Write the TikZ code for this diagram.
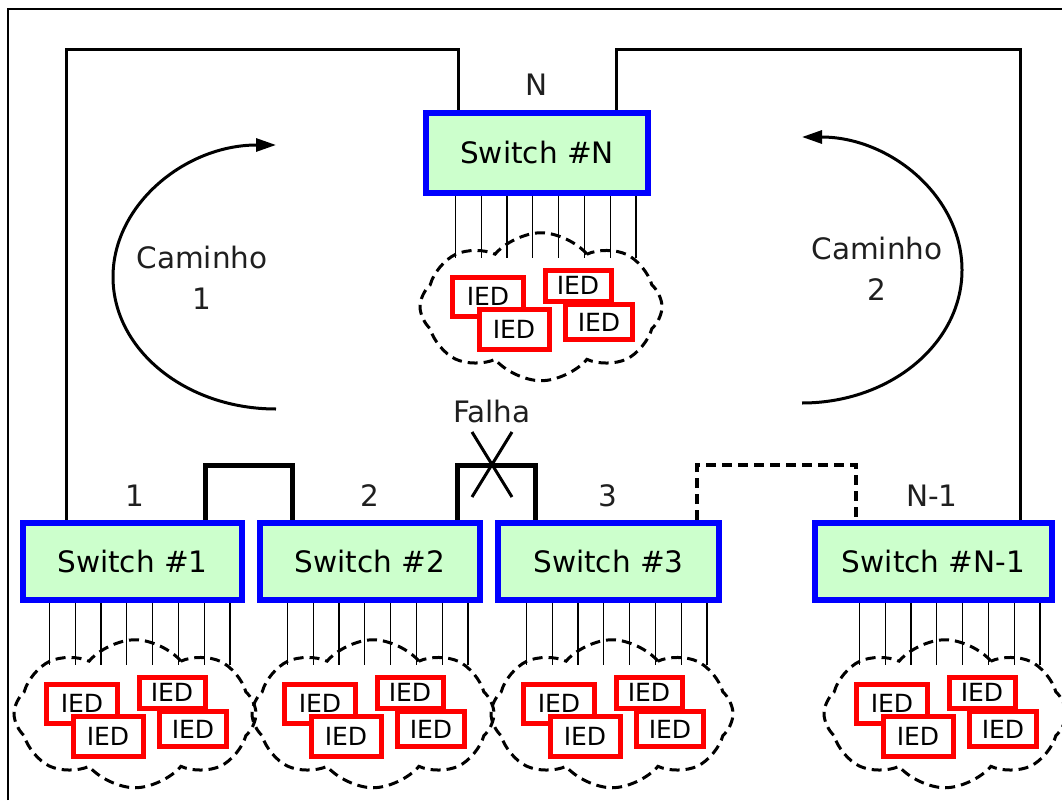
\documentclass[tikz,border=0pt]{standalone}
\usepackage{fontspec}
\setmainfont{DejaVu Sans}
\usetikzlibrary{shapes.symbols,arrows.meta,backgrounds,calc}
\definecolor{swfill}{HTML}{CCFFCC}
\definecolor{swblue}{HTML}{0000FF}
\definecolor{iedred}{HTML}{FF0000}
\newcommand{\iedcluster}[1]{%
  \node[cloudsh] (#1c) at ($(#1.south east)+(-110,110.75)$) {};
  \begin{scope}[on background layer]
    \foreach \k in {0,...,7}{
      \draw[port] ($(#1.south east)+(-15-25.8*\k,0)$) -- ++(0,62);
    }
  \end{scope}
  \node[iedbox,minimum width=71,minimum height=39] (#1i1) at ($(#1.south east)+(-163,100.75)$) {IED};
  \node[iedbox,minimum width=66,minimum height=31] (#1i2) at ($(#1.south east)+(-73,89.5)$) {IED};
  \node[iedbox,minimum width=70,minimum height=40] (#1i3) at ($(#1.south east)+(-137,133)$) {IED};
  \node[iedbox,minimum width=67,minimum height=35] (#1i4) at ($(#1.south east)+(-52,126)$) {IED};
}
\begin{document}
\begin{tikzpicture}[x=1pt,y=-1pt,
  switchbox/.style={draw=swblue,fill=swfill,line width=6pt,inner sep=0pt,
    font=\fontsize{29.5}{30}\selectfont},
  iedbox/.style={draw=iedred,fill=white,line width=5pt,inner sep=0pt,
    font=\fontsize{25}{25}\selectfont},
  cloudsh/.style={cloud,draw,line width=3pt,dash pattern=on 10pt off 6pt,
    cloud puffs=8,cloud puff arc=100,cloud ignores aspect,
    minimum width=242,minimum height=148,inner sep=0pt},
  port/.style={line width=1.2pt},
  ring/.style={line width=3pt},
  link/.style={line width=5pt},
  dlink/.style={line width=4pt,dash pattern=on 10pt off 6pt},
  lbl/.style={font=\fontsize{29.5}{41}\selectfont,align=center,text=black!88},
  path/.style={line width=3pt,-{Triangle[length=20pt,width=13pt]}}
]
\useasboundingbox (0,0) rectangle (1062,800);
% outer frame
\draw[line width=2pt] (8,800) -- (8,9) -- (1062,9);

% switches
\node[switchbox,minimum width=222,minimum height=80] (sN) at (537,153) {Switch \#N};
\node[switchbox,minimum width=219,minimum height=77] (s1) at (132.5,561.5) {Switch \#1};
\node[switchbox,minimum width=220,minimum height=77] (s2) at (370,561.5) {Switch \#2};
\node[switchbox,minimum width=221,minimum height=77] (s3) at (608.5,561.5) {Switch \#3};
\node[switchbox,minimum width=237,minimum height=77] (sN1) at (933.5,561.5) {Switch \#N-1};

% labels
\node[lbl] (lN) at (537,85) {N};
\node[lbl] (l1) at (135,496) {1};
\node[lbl] (l2) at (370,496) {2};
\node[lbl] (l3) at (608,496) {3};
\node[lbl] (lN1) at (932,496) {N-1};
\node[lbl] (cam1) at (202,277.5) {Caminho\\1};
\node[lbl] (cam2) at (877,269) {Caminho\\2};
\node[lbl] (falha) at (492,411) {Falha};

% ring and links
\begin{scope}[on background layer]
  \coordinate (rl) at (66,50);
  \coordinate (rr) at (1020,50);
  \draw[ring] (rl |- s1.north) -- (rl) -| (458,0 |- sN.north);
  \draw[ring] (616,0 |- sN.north) |- (rr) -- (rr |- sN1.north);
  \coordinate (k12) at (205,465);
  \coordinate (k23) at (457,465);
  \coordinate (k3N) at (697,465);
  \draw[link] (k12 |- s1.north) -- (k12) -| (292,0 |- s2.north);
  \draw[link] (k23 |- s2.north) -- (k23) -| (535,0 |- s3.north);
  \draw[dlink] (k3N |- s3.north) -- (k3N) -| (856,0 |- sN1.north);
\end{scope}
% failure cross
\coordinate (fx) at (492,465);
\draw[line width=3pt] ($(fx)+(-20,-33)$) -- ($(fx)+(20,32)$);
\draw[line width=3pt] ($(fx)+(20,-33)$) -- ($(fx)+(-20,32)$);

% paths
\draw[path] (276,409) arc[start angle=90,end angle=270,x radius=163,y radius=132];
\draw[path] (802,403) arc[start angle=90,end angle=-90,x radius=160,y radius=133];

% IED clusters
\iedcluster{sN}
\iedcluster{s1}
\iedcluster{s2}
\iedcluster{s3}
\iedcluster{sN1}
\end{tikzpicture}
\end{document}
